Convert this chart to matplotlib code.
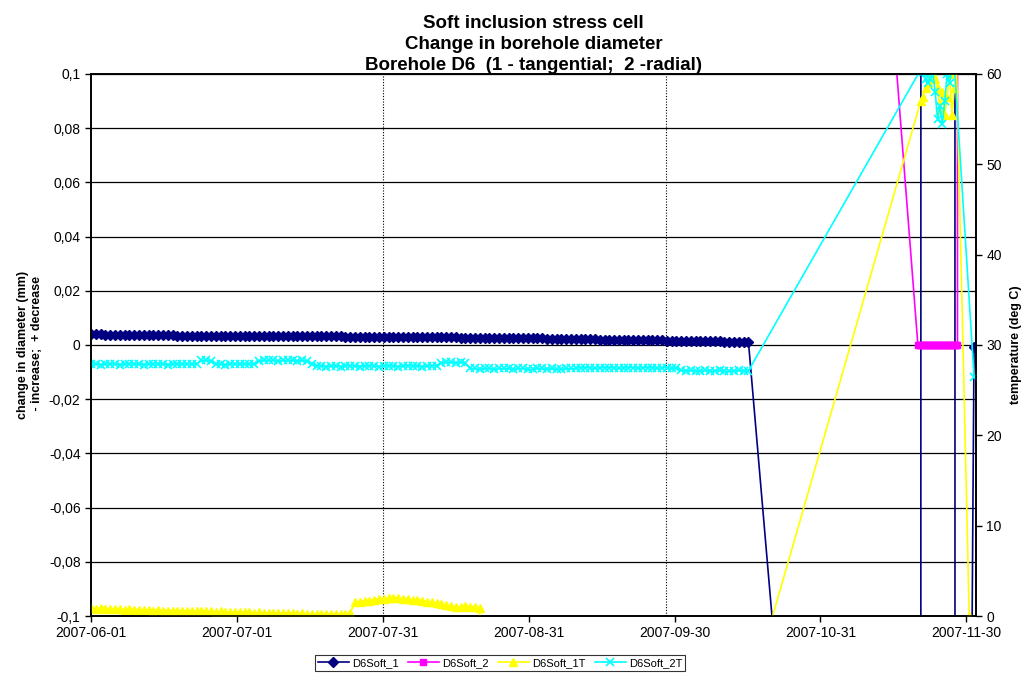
import numpy as np
import pandas as pd
import matplotlib
matplotlib.use("Agg")
import matplotlib.pyplot as plt
import matplotlib.dates as mdates
from matplotlib.ticker import FuncFormatter

plt.rcParams['font.family'] = ['Liberation Sans', 'DejaVu Sans']

start = pd.Timestamp("2007-06-01")

# daily readings (day 0 = 2007-06-01)
# D6Soft_1, change in diameter (mm)
soft1 = [0.0040, 0.0039, 0.0039, 0.0038, 0.0038, 0.0038, 0.0037, 0.0037, 0.0037, 0.0037,
         0.0037, 0.0036, 0.0036, 0.0036, 0.0036, 0.0036, 0.0036, 0.0036, 0.0035, 0.0035,
         0.0035, 0.0035, 0.0035, 0.0035, 0.0035, 0.0035, 0.0035, 0.0035, 0.0034, 0.0034,
         0.0034, 0.0034, 0.0034, 0.0034, 0.0034, 0.0034, 0.0034, 0.0034, 0.0033, 0.0033,
         0.0033, 0.0034, 0.0034, 0.0033, 0.0033, 0.0033, 0.0033, 0.0032, 0.0032, 0.0032,
         0.0032, 0.0032, 0.0032, 0.0031, 0.0031, 0.0031, 0.0031, 0.0031, 0.0031, 0.0030,
         0.0030, 0.0030, 0.0030, 0.0030, 0.0030, 0.0030, 0.0029, 0.0029, 0.0029, 0.0029,
         0.0029, 0.0029, 0.0028, 0.0028, 0.0028, 0.0028, 0.0028, 0.0027, 0.0027, 0.0027,
         0.0027, 0.0027, 0.0026, 0.0026, 0.0026, 0.0026, 0.0026, 0.0025, 0.0025, 0.0025,
         0.0025, 0.0024, 0.0024, 0.0024, 0.0024, 0.0023, 0.0023, 0.0023, 0.0023, 0.0022,
         0.0022, 0.0022, 0.0022, 0.0021, 0.0021, 0.0021, 0.0020, 0.0020, 0.0020, 0.0019,
         0.0019, 0.0019, 0.0019, 0.0018, 0.0018, 0.0018, 0.0017, 0.0017, 0.0017, 0.0017,
         0.0016, 0.0016, 0.0016, 0.0015, 0.0015, 0.0015, 0.0014, 0.0014, 0.0014, 0.0013,
         0.0013, 0.0013, 0.0012, 0.0012, 0.0012, 0.0011, 0.0011, 0.0010]
# D6Soft_2T temperature (deg C)
soft2t = [27.9, 27.9, 27.8, 27.9, 27.9, 27.9, 27.8, 27.9, 27.9, 27.9,
          27.9, 27.8, 27.9, 27.9, 27.9, 27.9, 27.8, 27.9, 27.9, 27.9,
          27.9, 27.9, 27.9, 28.3, 28.3, 28.2, 27.9, 27.9, 27.8, 27.9,
          27.9, 27.9, 27.9, 27.9, 27.9, 28.2, 28.3, 28.3, 28.3, 28.2,
          28.3, 28.3, 28.3, 28.2, 28.3, 28.2, 27.9, 27.7, 27.7, 27.6,
          27.7, 27.7, 27.6, 27.7, 27.7, 27.7, 27.6, 27.7, 27.7, 27.7,
          27.6, 27.7, 27.7, 27.7, 27.6, 27.7, 27.7, 27.7, 27.7, 27.6,
          27.7, 27.7, 27.7, 28.0, 28.1, 28.1, 28.0, 28.1, 28.0, 27.4,
          27.4, 27.3, 27.4, 27.4, 27.3, 27.4, 27.4, 27.4, 27.3, 27.4,
          27.4, 27.3, 27.3, 27.4, 27.4, 27.3, 27.4, 27.3, 27.3, 27.4,
          27.4, 27.4, 27.5, 27.5, 27.5, 27.4, 27.5, 27.5, 27.5, 27.5,
          27.4, 27.5, 27.5, 27.5, 27.4, 27.5, 27.5, 27.5, 27.4, 27.5,
          27.5, 27.4, 27.5, 27.2, 27.1, 27.2, 27.1, 27.1, 27.2, 27.1,
          27.1, 27.2, 27.1, 27.1, 27.1, 27.2, 27.1, 27.15]
# D6Soft_1T temperature (deg C)
soft1t = [0.9, 0.8, 0.9, 0.8, 0.8, 0.8, 0.8, 0.7, 0.8, 0.7,
          0.7, 0.7, 0.7, 0.6, 0.7, 0.6, 0.6, 0.6, 0.6, 0.5,
          0.6, 0.5, 0.5, 0.5, 0.5, 0.5, 0.4, 0.5, 0.4, 0.4,
          0.4, 0.4, 0.4, 0.4, 0.3, 0.4, 0.3, 0.3, 0.3, 0.3,
          0.3, 0.3, 0.3, 0.2, 0.3, 0.2, 0.2, 0.2, 0.2, 0.2,
          0.2, 0.2, 0.2, 0.2, 0.3, 1.5, 1.6, 1.7, 1.7, 1.8,
          1.9, 1.9, 2.0, 2.0, 2.0, 1.9, 1.9, 1.8, 1.8, 1.7,
          1.6, 1.5, 1.4, 1.3, 1.2, 1.1, 1.0, 1.0, 1.1, 1.0,
          1.0, 0.9]

# late readings (fractional day offsets), many off the chart
soft1_tail_days = [172.9, 172.95, 180.0, 180.05, 184.0]
soft1_tail = [-0.74, 1.0, 1.0, -1.0, -0.0008]

soft2_days = [137.7] + list(np.arange(172.3, 180.65, 0.25)) + [180.7]
soft2 = [0.79] + [0.0] * 34 + [3.0]

cluster_days = [172.9, 173.4, 173.9, 174.4, 174.9, 175.4, 175.9, 176.4,
                176.9, 177.4, 177.9, 178.4, 178.9, 179.4, 179.9]
soft1t_tail_days = [82.0, 137.7] + cluster_days + [180.3, 183.0]
soft1t_tail = [-30.0, -8.0, 57.0, 57.5, 58.5, 59.0, 59.5, 60.0, 59.5, 58.5,
               56.0, 58.0, 55.5, 57.5, 60.0, 55.5, 58.5, 62.0, 0.0]
soft2t_tail_days = cluster_days + [184.0]
soft2t_tail = [60.5, 60.2, 59.5, 59.0, 59.5, 60.3, 58.0, 55.0, 56.5, 54.5,
               57.0, 60.0, 59.0, 60.5, 61.0, 26.5]


def to_dates(days):
    return start + pd.to_timedelta(np.asarray(days, dtype=float), unit="D")


d1 = to_dates(list(range(len(soft1))) + soft1_tail_days)
v1 = soft1 + soft1_tail
d2 = to_dates(soft2_days)
d1t = to_dates(list(range(len(soft1t))) + soft1t_tail_days)
v1t = soft1t + soft1t_tail
d2t = to_dates(list(range(len(soft2t))) + soft2t_tail_days)
v2t = soft2t + soft2t_tail

fig = plt.figure(figsize=(10.27, 6.8), dpi=100)
ax = fig.add_axes([0.0886, 0.0941, 0.8617, 0.7971])
ax2 = ax.twinx()

l1, = ax.plot(d1, v1, color="#000080", marker="D", markersize=5, lw=1.2, label="D6Soft_1")
l2, = ax.plot(d2, soft2, color="#FF00FF", marker="s", markersize=5, lw=1.2, label="D6Soft_2")
l3, = ax2.plot(d1t, v1t, color="#FFFF00", marker="^", markersize=6, lw=1.2, label="D6Soft_1T")
l4, = ax2.plot(d2t, v2t, color="#00FFFF", marker="x", markersize=6, mew=1.2, lw=1.2, label="D6Soft_2T")

ax.set_xlim(start, start + pd.Timedelta(days=184.4))
ax.set_ylim(-0.1, 0.1)
ax2.set_ylim(0, 60)

xt = [start + pd.Timedelta(days=30.4 * k) for k in range(7)]
ax.set_xticks(xt)
ax.xaxis.set_major_formatter(mdates.DateFormatter("%Y-%m-%d"))
ax.set_yticks(np.arange(-0.1, 0.1001, 0.02))
ax.yaxis.set_major_formatter(FuncFormatter(lambda v, p: ("%g" % round(v, 2)).replace(".", ",")))
ax2.set_yticks(range(0, 61, 10))

for v in np.arange(-0.08, 0.1001, 0.02):
    ax.axhline(v, color="black", lw=0.9, zorder=0)
for dd in [60.8, 119.8]:
    ax.axvline(start + pd.Timedelta(days=dd), color="black", lw=0.8, ls=(0, (1, 1.5)), zorder=0)

for a in (ax, ax2):
    a.tick_params(labelsize=10, direction="out", length=4, width=1)
    for s in a.spines.values():
        s.set_linewidth(1.2)
ax2.patch.set_visible(False)

ax.set_ylabel("change in diameter (mm)\n - increase;  + decrease", fontsize=9, fontweight="bold")
ax2.set_ylabel("temperature (deg C)", fontsize=9, fontweight="bold", labelpad=6)
ax.set_title("Soft inclusion stress cell\nChange in borehole diameter\nBorehole D6  (1 - tangential;  2 -radial)",
             fontsize=13.5, fontweight="bold", pad=3, linespacing=1.3)

leg = fig.legend(handles=[l1, l2, l3, l4], loc="center", bbox_to_anchor=(0.487, 0.025),
                 ncol=4, fontsize=8, frameon=True, fancybox=False, edgecolor="black",
                 handlelength=2.8, columnspacing=0.8, handletextpad=0.3, borderpad=0.25)
leg.get_frame().set_linewidth(0.8)

fig.savefig("out.png", dpi=100)
